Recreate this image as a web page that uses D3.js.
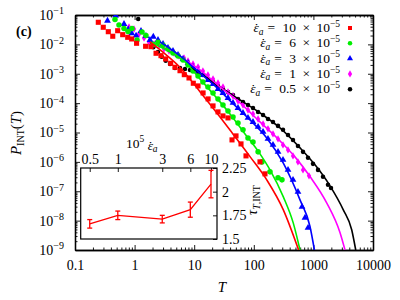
<!DOCTYPE html>
<html>
<head>
<meta charset="utf-8">
<script src="https://cdn.jsdelivr.net/npm/d3@7"></script>
<style>
  body { margin: 0; background: #fff; }
  svg { font-family: "Liberation Serif", serif; }
</style>
</head>
<body>
<div id="container"></div>
<script>
// ---------- data ----------
// main panel: [T, P_INT(T)]
let redPts = [[0.246,0.0565],[0.298,0.0382],[0.362,0.0270],[0.430,0.0189],[0.520,0.0292],[0.631,0.0214],[0.766,0.0174],[0.894,0.0153],[1.08,0.0109],[1.53,8.61e-3],[1.88,8.35e-3],[2.29,4.98e-3],[2.77,4.13e-3],[3.32,3.19e-3],[4.03,2.27e-3],[4.76,1.66e-3],[5.78,1.27e-3],[6.82,9.31e-4],[8.18,7.19e-4],[9.66,4.75e-4],[11.6,3.85e-4],[14.1,2.22e-4],[17.1,1.39e-4],[20.7,8.04e-5],[25.1,5.02e-5],[30.4,3.67e-5],[36.9,3.14e-5],[43.1,5.60e-6],[50.3,7.66e-6],[61.0,4.09e-6],[74.0,1.60e-6],[127,1.00e-6],[154,3.91e-7]];
let greenPts = [[0.469,0.0703],[0.547,0.0457],[0.664,0.0347],[0.775,0.0275],[0.905,0.0347],[1.10,0.0141],[1.33,0.0264],[1.55,0.0201],[2.04,0.0100],[2.47,0.0117],[3.00,9.25e-3],[3.63,6.97e-3],[4.41,5.10e-3],[5.35,4.03e-3],[6.49,2.95e-3],[7.87,1.99e-3],[9.55,1.25e-3],[11.6,8.42e-4],[14.0,5.26e-4],[17.0,3.56e-4],[20.7,2.22e-4],[25.1,1.39e-4],[30.4,8.69e-5],[36.9,5.43e-5],[44.8,3.39e-5],[54.3,2.12e-5],[65.9,1.23e-5],[79.9,6.55e-6],[97.0,4.79e-6],[118,2.19e-6],[137,1.0e-6],[187,4.57e-7],[255,2.86e-7],[297,2.44e-7]];
let bluePts = [[0.351,0.0640],[0.482,0.0962],[0.664,0.0494],[0.784,0.0326],[0.894,0.0238],[1.06,0.0198],[1.28,0.0286],[1.55,0.0193],[1.81,0.0141],[2.06,0.0183],[2.47,0.0141],[3.00,0.0103],[3.63,7.54e-3],[4.41,5.96e-3],[5.35,4.36e-3],[6.49,3.19e-3],[7.87,2.33e-3],[9.55,1.70e-3],[11.6,1.25e-3],[14.0,9.10e-4],[17.0,6.15e-4],[20.7,4.50e-4],[25.1,3.04e-4],[30.4,2.22e-4],[36.9,1.50e-4],[44.8,1.02e-4],[54.3,6.87e-5],[65.9,4.64e-5],[79.9,3.14e-5],[97.0,2.29e-5],[118,1.55e-5],[143,1.05e-5],[173,6.06e-6],[210,3.79e-6],[255,2.19e-6],[309,1.17e-6],[375,5.34e-7],[455,2.44e-7],[551,9.54e-8],[644,2.95e-8],[723,1.25e-8],[812,5.69e-9]];
let magentaPts = [[0.664,0.0457],[0.805,0.0391],[0.977,0.0334],[1.19,0.0226],[1.44,0.0165],[1.74,0.0121],[2.12,0.0103],[2.57,9.25e-3],[3.11,6.97e-3],[3.78,5.96e-3],[4.58,5.10e-3],[5.56,4.03e-3],[6.74,3.45e-3],[7.87,2.72e-3],[9.55,2.15e-3],[11.6,1.70e-3],[14.0,1.25e-3],[17.0,9.10e-4],[20.7,6.65e-4],[25.1,4.87e-4],[30.4,3.56e-4],[36.9,2.40e-4],[44.8,1.76e-4],[54.3,1.19e-4],[65.9,8.69e-5],[79.9,5.87e-5],[97.0,4.29e-5],[118,2.90e-5],[143,1.96e-5],[173,1.33e-5],[210,8.96e-6],[255,6.06e-6],[309,3.79e-6],[375,2.56e-6],[455,1.60e-6],[551,1.0e-6],[669,5.34e-7],[844,3.34e-7]];
let blackPts = [[1.15,0.0731],[1.54,0.0198],[1.81,0.0121],[2.06,7.97e-3],[2.47,5.51e-3],[2.85,3.82e-3],[3.33,2.79e-3],[3.93,2.15e-3],[4.76,1.58e-3],[5.78,1.58e-3],[7.01,1.46e-3],[8.50,1.35e-3],[11.6,1.15e-3],[14.0,9.10e-4],[17.0,6.65e-4],[20.7,5.26e-4],[25.1,3.85e-4],[30.4,3.04e-4],[36.9,2.40e-4],[44.8,1.90e-4],[54.3,1.39e-4],[65.9,1.10e-4],[79.9,8.69e-5],[97.0,6.87e-5],[118,5.02e-5],[143,3.97e-5],[173,2.90e-5],[210,2.29e-5],[255,1.68e-5],[309,1.23e-5],[375,8.29e-6],[455,5.60e-6],[551,3.50e-6],[669,2.19e-6],[812,1.37e-6],[984,8.55e-7],[1195,5.34e-7],[1449,3.09e-7],[1758,1.65e-7],[1974,1.30e-7]];

// fitted curves
let redFit = [[1.81,1.21e-2],[3.24,4.71e-3],[5.78,1.64e-3],[12.5,2.46e-4],[27.1,3.39e-5],[45.3,8.62e-6],[86.4,1.51e-6],[165,2.44e-7],[313,2.33e-8],[565,1e-9]];
let greenFit = [[1.81,1.21e-2],[3.93,5.51e-3],[7.01,2.52e-3],[12.5,6.65e-4],[22.3,1.76e-4],[39.9,4.29e-5],[71.2,8.96e-6],[127,1.87e-6],[187,5.34e-7],[313,6.45e-8],[460,8.22e-9],[596,1e-9]];
let blueFit = [[2.67,1.21e-2],[5.78,4.03e-3],[10.3,1.46e-3],[22.3,3.85e-4],[45.3,9.39e-5],[86.4,2.68e-5],[165,6.55e-6],[313,9.03e-7],[596,5.10e-8],[877,6.30e-9],[1040,1e-9]];
let magentaFit = [[7.01,2.95e-3],[12.5,1.35e-3],[27.1,3.56e-4],[58.7,1.02e-4],[127,2.29e-5],[275,5.18e-6],[491,1.48e-6],[877,3.16e-7],[1670,4.03e-8],[2800,3.85e-9],[3390,1e-9]];
let blackFit = [[8.50,1.70e-3],[12.5,1.06e-3],[27.1,3.56e-4],[58.7,1.28e-4],[127,4.64e-5],[275,1.43e-5],[596,2.99e-6],[1064,7.91e-7],[1899,1.53e-7],[3175,2.33e-8],[4391,4.87e-9],[5130,1e-9]];

let seriesLabels = ["10", "6", "3", "1", "0.5"];
let seriesColors = ["#ff0000", "#00ee00", "#0000ff", "#ff00ff", "#000000"];

let xTicks = [0.1, 1, 10, 100, 1000, 10000];
let xTickLabels = ["0.1", "1", "10", "100", "1000", "10000"];
let yTicks = [1e-9, 1e-8, 1e-7, 1e-6, 1e-5, 1e-4, 1e-3, 1e-2, 1e-1];
let yTickExps = ["−9", "−8", "−7", "−6", "−5", "−4", "−3", "−2", "−1"];

// inset: correlation time vs strain rate
let insetRate = [0.5, 1, 3, 6, 10];
let insetTau = [1.66, 1.75, 1.71, 1.81, 2.08];
let insetErr = [0.045, 0.045, 0.04, 0.08, 0.145];
let insetXTicks = [0.5, 1, 3, 6, 10];
let insetXTickLabels = ["0.5", "1", "3", "6", "10"];
let insetYTicks = [1.5, 1.75, 2, 2.25];
let insetYTickLabels = ["1.5", "1.75", "2", "2.25"];

// ---------- layout ----------
let w = 400;
let h = 300;
let pLeft = 75, pRight = 373, pTop = 15, pBottom = 250;
let font = "Liberation Serif, serif";

let viz = d3.select("#container")
  .append("svg")
    .attr("width", w)
    .attr("height", h)
;

let xScale = d3.scaleLog().domain([0.1, 10000]).range([pLeft, pRight]);
let yScale = d3.scaleLog().domain([1e-9, 1e-1]).range([pBottom, pTop]);

// minor tick positions for log axes
let xMinor = [];
for (let n = -1; n <= 3; n++) for (let k = 2; k <= 9; k++) xMinor.push(k * Math.pow(10, n));
let yMinor = [];
for (let n = -9; n <= -2; n++) for (let k = 2; k <= 9; k++) yMinor.push(k * Math.pow(10, n));

function styleAxis(g) {
  g.attr("font-family", font).attr("font-size", 14);
  g.selectAll("path.domain").attr("stroke-width", 1.3);
  g.selectAll(".tick line").attr("stroke-width", 0.9);
  g.selectAll(".tick text").attr("fill", "#000");
}

// epsilon with a dot on top, written as tspans
function epsDot(t, gap) {
  t.append("tspan").attr("font-style", "italic").attr("dx", gap || 0).text("ε");
  t.append("tspan").attr("dx", "-0.34em").text("˙");
}

// bottom
viz.append("g").attr("transform", "translate(0," + pBottom + ")")
  .call(d3.axisBottom(xScale).tickValues(xTicks).tickFormat((d, i) => xTickLabels[i])
    .tickSizeInner(-5).tickSizeOuter(0).tickPadding(10))
  .call(styleAxis);
viz.append("g").attr("transform", "translate(0," + pBottom + ")")
  .call(d3.axisBottom(xScale).tickValues(xMinor).tickFormat("").tickSizeInner(-2.5).tickSizeOuter(0))
  .call(styleAxis);
// top
viz.append("g").attr("transform", "translate(0," + pTop + ")")
  .call(d3.axisTop(xScale).tickValues(xTicks).tickFormat("").tickSizeInner(-5).tickSizeOuter(0))
  .call(styleAxis);
viz.append("g").attr("transform", "translate(0," + pTop + ")")
  .call(d3.axisTop(xScale).tickValues(xMinor).tickFormat("").tickSizeInner(-2.5).tickSizeOuter(0))
  .call(styleAxis);
// left
let yAxisGroup = viz.append("g").attr("transform", "translate(" + pLeft + ",0)")
  .call(d3.axisLeft(yScale).tickValues(yTicks).tickSizeInner(-5).tickSizeOuter(0).tickPadding(11))
  .call(styleAxis);
yAxisGroup.selectAll(".tick text").each(function(d, i) {
  let t = d3.select(this);
  t.text(null);
  t.append("tspan").text("10");
  t.append("tspan").attr("dy", "-0.55em").attr("font-size", "10px").text(yTickExps[i]);
});
viz.append("g").attr("transform", "translate(" + pLeft + ",0)")
  .call(d3.axisLeft(yScale).tickValues(yMinor).tickFormat("").tickSizeInner(-2.5).tickSizeOuter(0))
  .call(styleAxis);
// right
viz.append("g").attr("transform", "translate(" + pRight + ",0)")
  .call(d3.axisRight(yScale).tickValues(yTicks).tickFormat("").tickSizeInner(-5).tickSizeOuter(0))
  .call(styleAxis);
viz.append("g").attr("transform", "translate(" + pRight + ",0)")
  .call(d3.axisRight(yScale).tickValues(yMinor).tickFormat("").tickSizeInner(-2.5).tickSizeOuter(0))
  .call(styleAxis);

// ---------- markers and fits ----------
viz.append("defs").append("clipPath").attr("id", "plotclip")
  .append("rect").attr("x", pLeft).attr("y", pTop).attr("width", pRight - pLeft).attr("height", pBottom - pTop);

let graphGroup = viz.append("g").attr("clip-path", "url(#plotclip)");

let allPts = [redPts, greenPts, bluePts, magentaPts, blackPts];
let allFits = [redFit, greenFit, blueFit, magentaFit, blackFit];
let symbolTypes = [d3.symbolSquare, d3.symbolCircle, d3.symbolTriangle, d3.symbolDiamond, d3.symbolCircle];
let symbolSizes = [26, 24, 20, 16, 16];

let lineMaker = d3.line()
  .x(function(d) { return xScale(d[0]); })
  .y(function(d) { return yScale(d[1]); })
  .curve(d3.curveMonotoneX)
;

// black first so red stays on top
for (let s = 4; s >= 0; s--) {
  let sym = d3.symbol().type(symbolTypes[s]).size(symbolSizes[s]);
  graphGroup.append("g").selectAll("path").data(allPts[s]).enter()
    .append("path")
      .attr("d", sym)
      .attr("transform", d => "translate(" + xScale(d[0]) + "," + yScale(d[1]) + ")")
      .attr("fill", seriesColors[s]);
}
for (let s = 4; s >= 0; s--) {
  graphGroup.append("path").datum(allFits[s])
    .attr("d", lineMaker)
    .attr("fill", "none")
    .attr("stroke", seriesColors[s])
    .attr("stroke-width", 1.6);
}

// ---------- axis labels ----------
viz.append("text")
  .attr("transform", "translate(21,133) rotate(-90)")
  .attr("text-anchor", "middle")
  .attr("font-family", font).attr("font-size", 15)
  .call(function(t) {
    t.append("tspan").attr("font-style", "italic").text("P");
    t.append("tspan").attr("font-size", "10px").attr("dy", 3).text("INT");
    t.append("tspan").attr("dy", -3).text("(");
    t.append("tspan").attr("font-style", "italic").text("T");
    t.append("tspan").text(")");
  });

viz.append("text")
  .attr("x", 222).attr("y", 292)
  .attr("text-anchor", "middle")
  .attr("font-family", font).attr("font-size", 15).attr("font-style", "italic")
  .text("T");

viz.append("text")
  .attr("x", 16).attr("y", 36)
  .attr("font-family", font).attr("font-size", 14).attr("font-weight", "bold")
  .text("(c)");

// ---------- legend ----------
let legend = viz.append("g").attr("font-family", font).attr("font-size", 13.5);
seriesLabels.forEach(function(lab, i) {
  let cy = 28 + i * 15.3;
  let t = legend.append("text").attr("x", 340).attr("y", cy + 4).attr("text-anchor", "end");
  epsDot(t);
  t.append("tspan").attr("font-style", "italic").attr("font-size", "9.5px").attr("dy", 2.5).text("a");
  t.append("tspan").attr("dy", -2.5).attr("dx", 4).text("=");
  t.append("tspan").attr("dx", 4).text(" " + lab);
  t.append("tspan").attr("dx", 3).text(" ×");
  t.append("tspan").attr("dx", 3).text(" 10");
  t.append("tspan").attr("font-size", "9.5px").attr("dy", "-0.55em").text("−5");
  legend.append("path")
    .attr("d", d3.symbol().type(symbolTypes[i]).size(16)())
    .attr("transform", "translate(350," + cy + ")")
    .attr("fill", seriesColors[i]);
});

// ---------- inset ----------
let inL = 80.7, inR = 217, inT = 168, inB = 239;
let insetX = d3.scaleLog().domain([0.4, 11.6]).range([inL, inR]);
let insetY = d3.scaleLinear().domain([1.5, 2.25]).range([inB, inT]);

let inset = viz.append("g");
inset.append("rect")
  .attr("x", inL).attr("y", inT).attr("width", inR - inL).attr("height", inB - inT)
  .attr("fill", "#fff").attr("stroke", "#000").attr("stroke-width", 1.2);

inset.append("g").attr("transform", "translate(0," + inT + ")")
  .call(d3.axisTop(insetX).tickValues(insetXTicks).tickFormat((d, i) => insetXTickLabels[i])
    .tickSizeInner(-4).tickSizeOuter(0).tickPadding(4))
  .call(styleAxis)
  .call(g => g.select("path.domain").remove());
inset.append("g").attr("transform", "translate(" + inR + ",0)")
  .call(d3.axisRight(insetY).tickValues(insetYTicks).tickFormat((d, i) => insetYTickLabels[i])
    .tickSizeInner(-4).tickSizeOuter(0).tickPadding(5))
  .call(styleAxis)
  .call(g => g.select("path.domain").remove());

let insetLine = d3.line()
  .x(function(d, i) { return insetX(insetRate[i]); })
  .y(function(d) { return insetY(d); });
inset.append("path").datum(insetTau)
  .attr("d", insetLine)
  .attr("fill", "none").attr("stroke", "#ff0000").attr("stroke-width", 1.3);

let bars = inset.append("g").attr("stroke", "#ff0000").attr("stroke-width", 1.3);
insetTau.forEach(function(v, i) {
  let cx = insetX(insetRate[i]);
  let y1 = insetY(v - insetErr[i]), y2 = insetY(v + insetErr[i]);
  bars.append("line").attr("x1", cx).attr("x2", cx).attr("y1", y1).attr("y2", y1 === y2 ? y2 : y2);
  bars.append("line").attr("x1", cx - 2.5).attr("x2", cx + 2.5).attr("y1", y1).attr("y2", y1);
  bars.append("line").attr("x1", cx - 2.5).attr("x2", cx + 2.5).attr("y1", y2).attr("y2", y2);
});

// inset axis titles
let rateLabel = viz.append("text").attr("x", 126).attr("y", 147.5)
  .attr("font-family", font).attr("font-size", 13.5);
rateLabel.append("tspan").text("10");
rateLabel.append("tspan").attr("font-size", "9.5px").attr("dy", "-0.55em").text("5");
rateLabel.append("tspan").attr("dy", "0.55em").text("\u00a0");
epsDot(rateLabel, 0);
rateLabel.append("tspan").attr("font-style", "italic").attr("font-size", "9.5px").attr("dy", 2).text("a");

let tauLabel = viz.append("text")
  .attr("transform", "translate(257,200) rotate(-90)")
  .attr("text-anchor", "middle")
  .attr("font-family", font).attr("font-size", 14);
tauLabel.append("tspan").attr("font-style", "italic").text("τ");
tauLabel.append("tspan").attr("font-size", "10px").attr("font-style", "italic").attr("dy", 3).text("T");
tauLabel.append("tspan").attr("font-size", "10px").text(",INT");
</script>
</body>
</html>
